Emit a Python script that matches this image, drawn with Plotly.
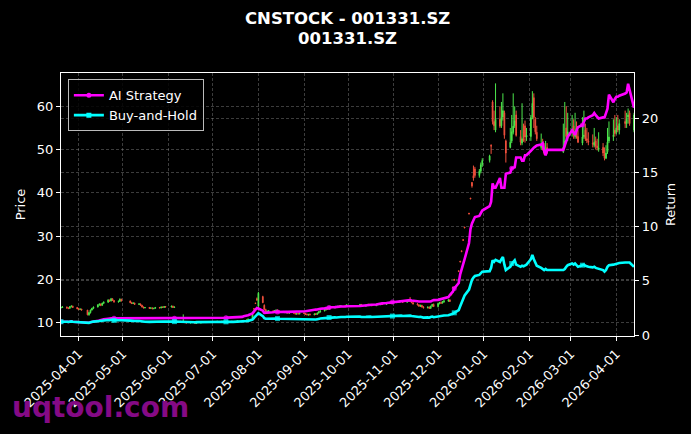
import pandas as pd
import plotly.graph_objects as go

# ---------------- data ----------------
START_DATE = "2025-03-20"
END_DATE = "2026-04-13"
HOLIDAYS = ["2025-04-04", "2025-05-01", "2025-05-02", "2025-05-05", "2025-06-02",
            "2025-10-01", "2025-10-02", "2025-10-03", "2025-10-06", "2025-10-07", "2025-10-08",
            "2026-01-01", "2026-01-02", "2026-02-16", "2026-02-17", "2026-02-18",
            "2026-02-19", "2026-02-20", "2026-02-23", "2026-04-06"]

OPEN = [
    13.4, 13.5, 13.6, 13.4, 13.3, 13.7, 13.8, 13.5,
    13.2, 13.0, 13.1, 12.9, 11.8, 12.3, 12.9, 13.3, 13.6, 14.1, 14.3, 14.0, 14.5, 14.7, 15.2, 15.0, 15.5, 15.1, 14.8, 14.9, 15.4,
    15.0, 14.6, 14.4, 14.5, 14.2, 14.3, 14.0, 13.6, 13.4, 13.5, 13.3, 13.4, 13.2, 13.3, 13.5, 13.4, 13.6, 13.5, 13.7,
    13.6, 13.8, 13.5, 10.4, 10.3, 10.2, 10.1, 10.2, 10.0, 9.9, 10.0, 10.1, 10.0, 9.8, 9.9, 10.0, 10.1, 10.0, 10.1, 10.0,
    10.1, 10.2, 10.1, 10.2, 10.3, 10.2, 10.3, 10.1, 10.2, 10.3, 10.2, 10.1, 10.2, 10.3, 10.4, 10.3, 10.5, 10.4, 10.6, 10.9, 13.25, 14.55, 15.5,
    13.8, 16.0, 14.0, 13.0, 12.5, 12.6, 12.7, 12.5, 12.8, 12.9, 12.7, 12.5, 12.4, 12.3, 12.4, 12.2, 12.3, 12.2, 12.0, 12.1, 12.0,
    12.2, 12.1, 11.9, 11.8, 11.9, 11.8, 12.0, 11.9, 12.2, 12.5, 12.7, 13.0, 13.2, 13.1, 13.5, 13.4, 13.6, 13.5, 13.8, 13.7, 13.9, 13.8,
    14.1, 14.2, 13.9, 14.0, 14.2, 14.1, 14.2, 13.9, 14.1, 14.3, 14.2, 14.3, 14.2, 14.5, 14.4, 14.6, 14.4,
    14.6, 14.8, 14.7, 15.0, 14.9, 14.7, 14.9, 15.1, 14.9, 14.6, 14.3, 14.1, 13.8, 14.0, 13.6, 13.4, 13.6, 13.3, 13.8, 14.2,
    13.7, 14.4, 14.6, 14.5, 14.8, 15.0, 15.2, 16.6, 18.2, 20.0, 22.0, 24.2, 26.6, 29.2, 32.1, 35.3, 38.8, 42.4, 44.0, 45.5, 44.0, 45.0, 46.5,
    47.5, 51.0, 61.0, 56.5, 54.5, 57.0, 55.5, 57.5, 58.5, 52.0, 50.5, 52.0, 54.0, 55.5, 58.0, 53.0, 51.5, 52.5, 55.5, 52.9,
    53.0, 57.5, 62.0, 57.0, 54.0, 50.5, 51.0, 49.5, 49.2, 50.5, 49.5, 51.0, 55.0, 53.0,
    54.0, 55.5, 53.0, 55.0, 53.0, 51.5, 53.0, 54.5, 52.5, 52.0, 51.5, 51.0, 52.0, 50.8, 50.0, 50.5, 49.0, 48.0, 49.5, 52.0, 53.0, 54.5,
    54.0, 55.5, 54.5, 56.5, 56.0, 57.5, 58.5, 54.5,
]
HIGH = [
    13.7, 13.8, 13.7, 13.5, 13.8, 14.0, 13.9, 13.6,
    13.4, 13.3, 13.2, 12.9, 12.5, 13.0, 13.4, 13.7, 14.2, 14.4, 14.4, 14.6, 14.9, 15.4, 15.3, 15.7, 15.6, 15.2, 15.1, 15.6, 15.5,
    15.1, 14.8, 14.7, 14.6, 14.5, 14.4, 14.1, 13.7, 13.6, 13.6, 13.5, 13.5, 13.4, 13.6, 13.6, 13.7, 13.7, 13.8, 13.8,
    13.9, 13.9, 13.7, 10.5, 10.4, 10.3, 11.9, 10.2, 10.1, 10.1, 10.2, 10.2, 10.0, 10.0, 10.1, 10.2, 10.2, 10.2, 10.1, 10.2,
    10.3, 10.3, 10.3, 10.4, 10.4, 10.4, 10.3, 10.3, 10.4, 10.4, 10.3, 10.3, 10.4, 10.5, 10.5, 10.6, 10.6, 10.7, 10.9, 12.0, 13.25, 14.55, 15.8,
    17.1, 16.2, 14.2, 13.2, 12.8, 12.9, 12.8, 12.9, 13.0, 13.0, 12.8, 12.7, 12.6, 12.5, 12.5, 12.4, 12.5, 12.3, 12.2, 12.3, 12.3,
    12.4, 12.2, 12.1, 12.0, 12.1, 12.1, 12.2, 12.3, 12.6, 12.8, 13.1, 13.3, 13.4, 13.6, 13.7, 13.8, 13.8, 13.9, 14.0, 14.0, 14.1, 14.2,
    14.3, 14.3, 14.1, 14.3, 14.4, 14.3, 14.3, 14.2, 14.4, 14.5, 14.4, 14.5, 14.6, 14.7, 14.8, 14.8, 14.7,
    14.9, 15.0, 15.1, 15.2, 15.1, 15.0, 15.2, 15.9, 15.0, 14.7, 14.5, 14.2, 14.1, 14.1, 13.8, 13.7, 13.7, 13.9, 14.3, 14.4,
    14.6, 14.8, 14.9, 15.0, 15.2, 15.4, 15.4, 16.6, 18.2, 20.0, 22.0, 24.2, 26.6, 29.2, 32.1, 35.3, 38.8, 42.5, 46.3, 46.0, 45.5, 47.0, 48.0,
    48.8, 51.2, 61.4, 59.0, 65.3, 60.0, 61.0, 63.0, 59.0, 52.3, 55.0, 58.0, 63.0, 60.0, 59.0, 54.5, 60.7, 56.0, 56.7, 55.0,
    58.0, 63.5, 63.0, 57.5, 55.5, 53.7, 52.5, 51.5, 52.0, 51.5, 56.0, 61.0, 60.0, 58.5,
    58.0, 57.0, 58.5, 56.5, 54.5, 57.5, 59.0, 56.0, 55.0, 54.0, 53.5, 55.0, 53.0, 52.5, 54.0, 51.5, 50.5, 51.0, 55.0, 56.5, 57.0, 58.0,
    57.5, 58.0, 57.0, 59.0, 58.5, 59.5, 59.0, 58.5,
]
LOW = [
    13.3, 13.4, 13.2, 13.1, 13.2, 13.5, 13.4, 13.1,
    13.0, 12.9, 12.8, 11.7, 11.6, 12.1, 12.8, 13.1, 13.5, 13.9, 13.8, 13.9, 14.3, 14.6, 14.8, 14.9, 15.0, 14.6, 14.6, 14.8, 14.9,
    14.5, 14.3, 14.3, 14.1, 14.1, 13.9, 13.5, 13.3, 13.3, 13.2, 13.2, 13.1, 13.1, 13.2, 13.3, 13.3, 13.4, 13.4, 13.5,
    13.5, 13.4, 13.4, 10.2, 10.1, 10.0, 10.0, 9.9, 9.8, 9.8, 9.9, 9.9, 9.7, 9.7, 9.8, 9.9, 9.9, 9.9, 9.9, 9.9,
    10.0, 10.0, 10.0, 10.1, 10.1, 10.1, 10.0, 10.0, 10.1, 10.1, 10.0, 10.0, 10.1, 10.2, 10.2, 10.2, 10.3, 10.3, 10.5, 10.8, 13.1, 14.4, 15.0,
    13.0, 14.5, 12.8, 12.3, 12.2, 12.4, 12.4, 12.4, 12.6, 12.6, 12.4, 12.3, 12.2, 12.1, 12.1, 12.0, 12.1, 11.9, 11.8, 11.9, 11.9,
    12.0, 11.8, 11.7, 11.6, 11.7, 11.7, 11.8, 11.8, 12.1, 12.3, 12.6, 12.8, 13.0, 13.0, 13.3, 13.3, 13.4, 13.4, 13.6, 13.6, 13.7, 13.7,
    13.9, 13.8, 13.6, 13.9, 14.0, 13.9, 13.8, 13.8, 14.0, 14.1, 14.0, 14.1, 14.1, 14.3, 14.3, 14.3, 14.3,
    14.5, 14.6, 14.6, 14.8, 14.6, 14.6, 14.8, 14.8, 14.5, 14.2, 14.0, 13.7, 13.6, 13.5, 13.3, 13.3, 13.2, 13.2, 13.7, 13.6,
    13.5, 14.2, 14.3, 14.4, 14.6, 14.8, 14.8, 16.4, 18.0, 19.8, 21.8, 24.0, 26.4, 29.0, 31.9, 35.1, 38.6, 41.2, 42.8, 43.5, 43.5, 44.5, 46.0,
    47.0, 49.0, 55.8, 54.5, 54.0, 55.0, 55.0, 56.7, 52.5, 47.0, 50.3, 51.5, 53.5, 55.0, 53.0, 51.0, 51.0, 51.8, 51.6, 52.0,
    52.0, 57.0, 55.0, 53.5, 52.0, 50.0, 49.8, 48.8, 49.0, 49.0, 49.2, 50.5, 52.5, 52.0,
    53.0, 52.5, 52.5, 52.5, 51.5, 51.0, 52.5, 52.0, 51.5, 51.0, 50.5, 50.5, 50.0, 49.8, 49.5, 48.5, 47.5, 47.8, 49.0, 51.5, 52.0, 53.0,
    53.5, 54.0, 53.5, 55.0, 55.0, 56.0, 55.5, 54.0,
]
CLOSE = [
    13.5, 13.6, 13.4, 13.3, 13.7, 13.8, 13.5, 13.2,
    13.0, 13.1, 12.9, 11.8, 12.3, 12.9, 13.3, 13.6, 14.1, 14.3, 14.0, 14.5, 14.7, 15.2, 15.0, 15.5, 15.1, 14.8, 14.9, 15.4, 15.0,
    14.6, 14.4, 14.5, 14.2, 14.3, 14.0, 13.6, 13.4, 13.5, 13.3, 13.4, 13.2, 13.3, 13.5, 13.4, 13.6, 13.5, 13.7, 13.6,
    13.8, 13.5, 13.6, 10.3, 10.2, 10.1, 10.3, 10.0, 9.9, 10.0, 10.1, 10.0, 9.8, 9.9, 10.0, 10.1, 10.0, 10.1, 10.0, 10.1,
    10.2, 10.1, 10.2, 10.3, 10.2, 10.3, 10.1, 10.2, 10.3, 10.2, 10.1, 10.2, 10.3, 10.4, 10.3, 10.5, 10.4, 10.6, 10.8, 11.9, 13.1, 14.4, 15.3,
    16.8, 14.6, 13.0, 12.5, 12.6, 12.7, 12.5, 12.8, 12.9, 12.7, 12.5, 12.4, 12.3, 12.4, 12.2, 12.3, 12.2, 12.0, 12.1, 12.0, 12.2,
    12.1, 11.9, 11.8, 11.9, 11.8, 12.0, 11.9, 12.2, 12.5, 12.7, 13.0, 13.2, 13.1, 13.5, 13.4, 13.6, 13.5, 13.8, 13.7, 13.9, 13.8, 14.1,
    14.2, 13.9, 14.0, 14.2, 14.1, 14.2, 13.9, 14.1, 14.3, 14.2, 14.3, 14.2, 14.5, 14.4, 14.6, 14.4, 14.6,
    14.8, 14.7, 15.0, 14.9, 14.7, 14.9, 15.1, 14.9, 14.6, 14.3, 14.1, 13.8, 14.0, 13.6, 13.4, 13.6, 13.3, 13.8, 14.2, 13.7,
    14.4, 14.6, 14.5, 14.8, 15.0, 15.2, 14.9, 16.4, 18.0, 19.8, 21.8, 24.0, 26.4, 29.0, 31.9, 35.1, 38.6, 41.6, 43.4, 44.0, 45.0, 46.5, 47.5,
    48.5, 50.8, 56.5, 55.5, 57.0, 55.4, 57.4, 59.0, 53.3, 49.2, 51.7, 54.1, 55.4, 56.6, 53.3, 51.7, 52.5, 52.1, 52.9, 53.3,
    57.4, 60.7, 57.4, 54.1, 52.5, 51.0, 50.0, 49.2, 50.0, 49.2, 50.5, 52.0, 53.0, 54.1,
    54.1, 53.3, 54.1, 52.9, 51.7, 52.9, 53.3, 52.5, 52.1, 51.7, 51.3, 51.7, 50.8, 50.4, 50.4, 49.2, 48.0, 49.2, 51.7, 52.9, 53.3, 53.7,
    55.0, 54.5, 56.0, 56.0, 57.0, 58.0, 56.0, 58.0,
]
AI_RETURN = [
    1.23, 1.24, 1.22, 1.21, 1.25, 1.26, 1.23, 1.20,
    1.18, 1.19, 1.17, 1.10, 1.14, 1.19, 1.23, 1.27, 1.32, 1.35, 1.36, 1.42, 1.45, 1.50, 1.49, 1.54, 1.54, 1.54, 1.54, 1.55, 1.55,
    1.55, 1.55, 1.55, 1.55, 1.55, 1.55, 1.55, 1.55, 1.55, 1.55, 1.55, 1.55, 1.55, 1.55, 1.55, 1.55, 1.55, 1.55, 1.55,
    1.56, 1.56, 1.56, 1.56, 1.56, 1.56, 1.56, 1.56, 1.56, 1.56, 1.56, 1.56, 1.56, 1.56, 1.56, 1.57, 1.57, 1.57, 1.57, 1.57,
    1.57, 1.57, 1.58, 1.59, 1.59, 1.60, 1.60, 1.60, 1.61, 1.61, 1.61, 1.62, 1.63, 1.65, 1.68, 1.74, 1.75, 1.78, 1.83, 2.00, 2.20, 2.40, 2.50,
    2.45, 2.25, 2.05, 2.05, 2.08, 2.10, 2.10, 2.12, 2.13, 2.13, 2.13, 2.13, 2.13, 2.14, 2.14, 2.14, 2.15, 2.15, 2.15, 2.16, 2.18,
    2.20, 2.20, 2.22, 2.25, 2.28, 2.33, 2.35, 2.36, 2.40, 2.43, 2.46, 2.50, 2.52, 2.55, 2.56, 2.58, 2.60, 2.62, 2.62, 2.64, 2.64, 2.66,
    2.68, 2.70, 2.72, 2.75, 2.77, 2.78, 2.80, 2.82, 2.85, 2.88, 2.90, 2.92, 2.95, 2.97, 3.00, 3.02, 3.05,
    3.08, 3.10, 3.12, 3.14, 3.15, 3.18, 3.20, 3.22, 3.18, 3.15, 3.12, 3.10, 3.10, 3.08, 3.06, 3.06, 3.05, 3.10, 3.18, 3.22,
    3.25, 3.28, 3.30, 3.33, 3.38, 3.50, 3.70, 3.85, 4.00, 4.30, 4.80, 5.60, 6.00, 6.50, 7.00, 8.50, 9.80, 10.30, 10.70, 10.90, 11.00, 11.30, 11.50,
    11.90, 12.30, 14.00, 13.60, 13.60, 14.50, 13.60, 13.60, 13.60, 14.90, 15.00, 15.40, 15.45, 15.50, 16.40, 16.40, 16.10, 16.10, 16.60, 16.60,
    17.00, 17.20, 17.30, 17.40, 17.50, 17.60, 17.70, 17.00, 16.60, 17.10, 17.10, 17.50, 18.00, 18.30,
    18.90, 18.70, 18.50, 18.90, 19.20, 19.40, 19.80, 20.00, 20.00, 20.10, 20.30, 20.50, 20.30, 20.10, 20.00, 20.10, 20.10, 20.50, 20.90, 22.20, 21.50, 21.80,
    22.00, 22.00, 22.10, 22.30, 22.40, 23.20, 22.60, 21.00,
]
BH_RETURN = [
    1.23, 1.24, 1.22, 1.21, 1.25, 1.26, 1.23, 1.20,
    1.18, 1.19, 1.17, 1.08, 1.12, 1.17, 1.21, 1.24, 1.28, 1.30, 1.27, 1.32, 1.34, 1.38, 1.37, 1.41, 1.37, 1.35, 1.36, 1.40, 1.37,
    1.33, 1.31, 1.32, 1.29, 1.30, 1.27, 1.24, 1.22, 1.23, 1.21, 1.22, 1.20, 1.21, 1.23, 1.22, 1.24, 1.23, 1.25, 1.24,
    1.26, 1.23, 1.24, 1.24, 1.22, 1.21, 1.24, 1.20, 1.19, 1.20, 1.21, 1.20, 1.18, 1.19, 1.20, 1.21, 1.20, 1.21, 1.20, 1.21,
    1.22, 1.21, 1.22, 1.24, 1.22, 1.24, 1.21, 1.22, 1.24, 1.22, 1.21, 1.22, 1.24, 1.25, 1.24, 1.26, 1.25, 1.27, 1.30, 1.43, 1.57, 1.73, 1.84,
    2.02, 1.75, 1.56, 1.50, 1.51, 1.52, 1.50, 1.54, 1.55, 1.52, 1.50, 1.49, 1.48, 1.49, 1.46, 1.48, 1.46, 1.44, 1.45, 1.44, 1.46,
    1.45, 1.43, 1.42, 1.43, 1.42, 1.44, 1.43, 1.46, 1.50, 1.52, 1.56, 1.58, 1.57, 1.62, 1.61, 1.63, 1.62, 1.66, 1.64, 1.67, 1.66, 1.69,
    1.70, 1.67, 1.68, 1.70, 1.69, 1.70, 1.67, 1.69, 1.72, 1.70, 1.72, 1.70, 1.74, 1.73, 1.75, 1.73, 1.75,
    1.78, 1.76, 1.80, 1.79, 1.76, 1.79, 1.81, 1.79, 1.75, 1.72, 1.69, 1.66, 1.68, 1.63, 1.61, 1.63, 1.60, 1.66, 1.70, 1.64,
    1.72, 1.75, 1.74, 1.77, 1.80, 1.83, 1.85, 1.92, 1.96, 2.05, 2.30, 2.65, 3.00, 3.30, 3.65, 4.20, 4.70, 5.10, 5.30, 5.45, 5.55, 5.70, 5.85,
    5.90, 6.20, 6.90, 6.77, 6.95, 6.75, 7.00, 7.20, 6.50, 6.00, 6.30, 6.60, 6.75, 6.90, 6.50, 6.30, 6.40, 6.35, 6.45, 6.50,
    7.00, 7.40, 7.00, 6.60, 6.40, 6.20, 6.10, 6.00, 6.10, 6.00, 6.00, 6.10, 6.30, 6.45,
    6.60, 6.50, 6.60, 6.45, 6.30, 6.45, 6.50, 6.40, 6.35, 6.30, 6.25, 6.30, 6.20, 6.15, 6.15, 6.00, 5.85, 6.00, 6.30, 6.45, 6.50, 6.55,
    6.60, 6.60, 6.65, 6.70, 6.70, 6.75, 6.70, 6.30,
]
MARKER_IDX = [0, 25, 50, 75, 100, 125, 150, 180, 205, 233]
TICK_LABELS = ["2025-04-01", "2025-05-01", "2025-06-01", "2025-07-01", "2025-08-01",
               "2025-09-01", "2025-10-01", "2025-11-01", "2025-12-01", "2026-01-01",
               "2026-02-01", "2026-03-01", "2026-04-01"]
PRICE_TICKS = [10, 20, 30, 40, 50, 60]
RETURN_TICKS = [0, 5, 10, 15, 20]
TITLE_LINES = ["CNSTOCK - 001331.SZ", "001331.SZ"]
SERIES_NAMES = ["AI Strategy", "Buy-and-Hold"]

# ---------------- build ----------------
dates = pd.bdate_range(START_DATE, END_DATE, freq="C", holidays=HOLIDAYS)
n = len(dates)
for nm, arr in [("OPEN", OPEN), ("HIGH", HIGH), ("LOW", LOW), ("CLOSE", CLOSE),
                ("AI", AI_RETURN), ("BH", BH_RETURN)]:
    if len(arr) != n:
        raise SystemExit(f"{nm} len {len(arr)} != dates {n}")

msize = [0] * n
for i in MARKER_IDX:
    if i < n:
        msize[i] = 5

FONT = "DejaVu Sans"
GREEN = "#4ce64c"
RED = "#f0503c"
MAGENTA = "#ff00ff"
CYAN = "#00ffff"
GRID = "rgba(150,150,150,0.40)"

fig = go.Figure()
fig.add_trace(go.Candlestick(
    x=dates, open=OPEN, high=HIGH, low=LOW, close=CLOSE,
    increasing=dict(line=dict(color=GREEN, width=1), fillcolor=GREEN),
    decreasing=dict(line=dict(color=RED, width=1), fillcolor=RED),
    whiskerwidth=0, showlegend=False, yaxis="y", hoverinfo="skip"))
for vals, col, sym in [(AI_RETURN, MAGENTA, "circle"), (BH_RETURN, CYAN, "square")]:
    fig.add_trace(go.Scatter(
        x=dates, y=vals, mode="lines+markers", showlegend=False,
        line=dict(color=col, width=2.6),
        marker=dict(size=msize, symbol=sym, color=col, line=dict(width=0)),
        yaxis="y2"))
# legend entries
for name, col, sym in [(SERIES_NAMES[0], MAGENTA, "circle"), (SERIES_NAMES[1], CYAN, "square")]:
    fig.add_trace(go.Scatter(
        x=[None], y=[None], name=name, mode="lines+markers",
        line=dict(color=col, width=2.6),
        marker=dict(size=5, symbol=sym, color=col, line=dict(width=0)),
        yaxis="y2"))

axis_common = dict(showline=True, linecolor="white", linewidth=1.2,
                   ticks="outside", tickcolor="white", ticklen=4,
                   tickfont=dict(color="white", size=13, family=FONT),
                   showgrid=True, gridcolor=GRID, griddash="3px,2px", gridwidth=0.8,
                   zeroline=False)

PLOT_TOP, PLOT_BOTTOM = 73, 336
H_PLOT = PLOT_BOTTOM - PLOT_TOP

fig.update_layout(
    width=691, height=434,
    paper_bgcolor="black", plot_bgcolor="black",
    margin=dict(l=61, r=57, t=PLOT_TOP, b=434 - PLOT_BOTTOM),
    font=dict(family=FONT, color="white", size=13),
    xaxis=dict(type="date", range=[dates[0], dates[-1]],
               tickvals=TICK_LABELS, ticktext=TICK_LABELS, tickangle=-45,
               rangeslider=dict(visible=False), mirror=True, **axis_common),
    yaxis=dict(range=[6.9, 67.7], tickvals=PRICE_TICKS,
               title=dict(text="Price", font=dict(size=13, color="white"), standoff=8),
               **axis_common),
    yaxis2=dict(range=[-0.09, 24.2], tickvals=RETURN_TICKS, overlaying="y", side="right",
                title=dict(text="Return", font=dict(size=13, color="white"), standoff=8),
                **axis_common),
    legend=dict(x=0.012, y=0.976, xanchor="left", yanchor="top",
                bgcolor="rgba(0,0,0,0.85)", bordercolor="#bbbbbb", borderwidth=1,
                font=dict(size=13, color="white", family=FONT)),
    annotations=[
        dict(text="<b>%s</b>" % TITLE_LINES[0], xref="paper", yref="paper",
             x=0.5, y=(PLOT_BOTTOM - 18) / H_PLOT, xanchor="center", yanchor="middle",
             showarrow=False, font=dict(size=16.5, color="white", family=FONT)),
        dict(text="<b>%s</b>" % TITLE_LINES[1], xref="paper", yref="paper",
             x=0.5, y=(PLOT_BOTTOM - 38.5) / H_PLOT, xanchor="center", yanchor="middle",
             showarrow=False, font=dict(size=16.5, color="white", family=FONT)),
        dict(text="<b>uqtool.com</b>", xref="paper", yref="paper",
             x=(10 - 61) / 573, y=(PLOT_BOTTOM - 407) / H_PLOT, xanchor="left", yanchor="middle",
             showarrow=False, font=dict(size=28, color="#850a85", family=FONT)),
    ],
)

fig.write_html("out.html")
